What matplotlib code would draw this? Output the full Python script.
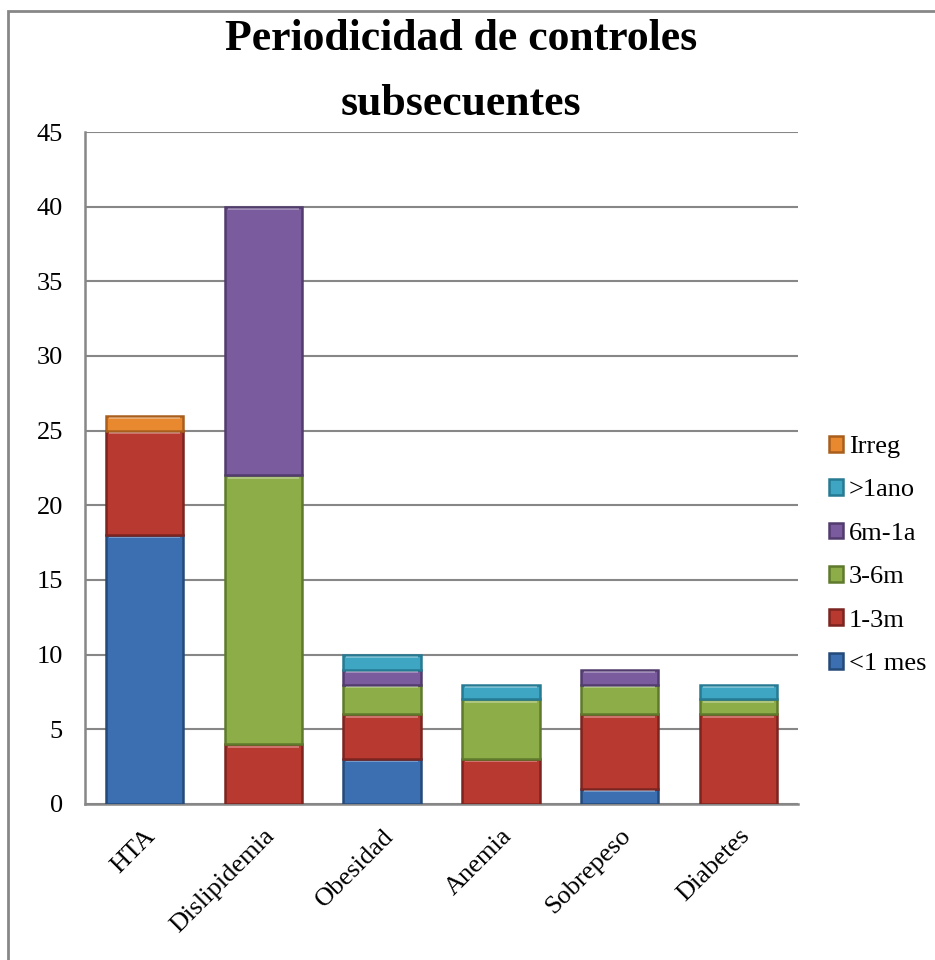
import numpy as np
import matplotlib
matplotlib.use('Agg')
import matplotlib.pyplot as plt
from matplotlib.patches import Rectangle

plt.rcParams['font.family'] = ['Liberation Serif', 'DejaVu Serif']

categories = ['HTA', 'Dislipidemia', 'Obesidad', 'Anemia', 'Sobrepeso', 'Diabetes']
series_names = ['<1 mes', '1-3m', '3-6m', '6m-1a', '>1ano', 'Irreg']
menos_1mes = [18, 0, 3, 0, 1, 0]
m1_3 = [7, 4, 3, 3, 5, 6]
m3_6 = [0, 18, 2, 4, 2, 1]
m6_1a = [0, 18, 1, 0, 1, 0]
mas_1ano = [0, 0, 1, 1, 0, 1]
irreg = [1, 0, 0, 0, 0, 0]
series = [menos_1mes, m1_3, m3_6, m6_1a, mas_1ano, irreg]

colors = ['#3b6fb1', '#b7392f', '#8cad47', '#7a5b9e', '#3ea6c3', '#e8892f']
edges = ['#244a7a', '#7c2420', '#5f7a2c', '#523c6e', '#267a92', '#a95e1c']

fig = plt.figure(figsize=(9.35, 9.6), dpi=100)
ax = fig.add_axes([0.0909, 0.1625, 0.7626, 0.7])

x = np.arange(len(categories))
bottom = np.zeros(len(categories))
handles = []
for name, vals, c, ec in zip(series_names, series, colors, edges):
    vals = np.array(vals, dtype=float)
    nz = vals > 0
    b = ax.bar(x[nz], vals[nz], 0.65, bottom=bottom[nz], color=c, edgecolor=ec,
               linewidth=1.8, label=name, zorder=3)
    # light bevel strip along the top of each segment
    top = bottom + vals
    ax.bar(x[nz], np.full(nz.sum(), 0.13), 0.6, bottom=top[nz] - 0.22,
           color='white', alpha=0.3, linewidth=0, zorder=4)
    handles.append(b)
    bottom = top

ax.set_xlim(-0.5, len(categories) - 0.5)
ax.set_ylim(0, 45)
ax.set_yticks(np.arange(0, 46, 5))
ax.set_xticks(x)
ax.set_xticklabels(categories, rotation=45, ha='right', rotation_mode='anchor',
                   fontsize=19)
ax.tick_params(axis='y', length=0, pad=16, labelsize=19)
ax.tick_params(axis='x', length=0, pad=15)
ax.yaxis.grid(True, color='#878787', linewidth=1.5, zorder=0)
ax.set_axisbelow(True)
for s in ['top', 'right']:
    ax.spines[s].set_visible(False)
for s in ['left', 'bottom']:
    ax.spines[s].set_color('#878787')
    ax.spines[s].set_linewidth(1.8)

fig.text(0.493, 0.9475, 'Periodicidad de controles', ha='center', va='baseline',
         fontsize=31.5, fontweight='bold')
fig.text(0.493, 0.8805, 'subsecuentes', ha='center', va='baseline',
         fontsize=31.5, fontweight='bold')

lgd = fig.legend(handles[::-1], series_names[::-1], loc='center left',
                 bbox_to_anchor=(0.8866, 0.4215), frameon=False, fontsize=19,
                 handlelength=0.55, handleheight=0.55, handletextpad=0.2,
                 labelspacing=0.8, borderpad=0, borderaxespad=0)

fig.add_artist(Rectangle((8 / 935, -0.5), 2, 1.5 - 11 / 960, transform=fig.transFigure,
                         fill=False, edgecolor='#878787', linewidth=2))

plt.savefig('out.png', dpi=100)
